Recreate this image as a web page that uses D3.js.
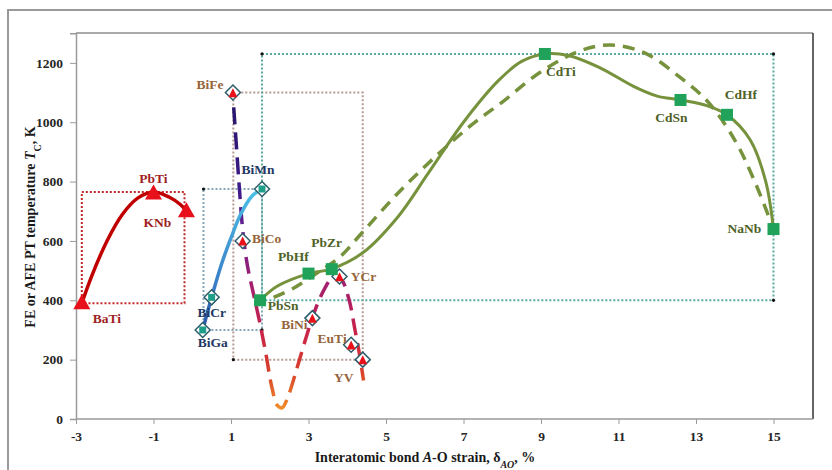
<!DOCTYPE html>
<html><head><meta charset="utf-8">
<script src="https://cdn.jsdelivr.net/npm/d3@7"></script>
<style>
body{margin:0;background:#fff}
svg{display:block}
text{font-family:"Liberation Serif","Times New Roman",serif;font-weight:bold}
</style>
</head><body>
<svg id="chart" width="832" height="470"></svg>
<script>
// ---------- data ----------
const xTicks = [-3, -1, 1, 3, 5, 7, 9, 11, 13, 15];
const yTicks = [0, 200, 400, 600, 800, 1000, 1200];

// A-site / B-site families: strain δAO (%) and transition temperature Tc (K)
const redNames   = ["BaTi", "PbTi", "KNb"];
const redStrain  = [-2.85, -1.0, -0.15];
const redTc      = [390, 760, 700];

const blueNames  = ["BiGa", "BiCr", "BiMn"];
const blueStrain = [0.27, 0.5, 1.8];
const blueTc     = [300, 410, 775];

const biNames    = ["BiFe", "BiCo", "BiNi", "YCr", "EuTi", "YV"];
const biStrain   = [1.05, 1.3, 3.1, 3.8, 4.1, 4.4];
const biTc       = [1100, 600, 340, 480, 250, 200];

const greenNames  = ["PbSn", "PbHf", "PbZr", "CdTi", "CdSn", "CdHf", "NaNb"];
const greenStrain = [1.75, 3.0, 3.6, 9.1, 12.6, 13.8, 15.0];
const greenTc     = [400, 490, 505, 1230, 1075, 1025, 640];

// smoothed trend curves [strain, Tc]
const redTrend = [[-2.85,390],[-2.6,480],[-2.2,600],[-1.8,690],[-1.4,745],[-1.0,765],[-0.6,748],[-0.3,722],[-0.15,700]];
const blueTrend = [[0.27,300],[0.5,410],[0.75,520],[1.0,610],[1.25,690],[1.55,752],[1.8,775]];
const biTrend = [[1.07,1050],[1.15,900],[1.22,770],[1.3,640],[1.42,520],[1.6,410],[1.75,320],[1.9,220],[2.05,110],[2.2,45],[2.32,38],[2.47,75],[2.7,170],[2.95,280],[3.15,360],[3.4,435],[3.65,482],[3.85,470],[4.05,400],[4.2,300],[4.32,215],[4.42,130]];
const greenTrend = [[1.75,400],[2.2,448],[3.0,490],[3.6,506],[4.4,560],[5.3,680],[6.1,830],[7.0,1000],[7.9,1140],[8.5,1205],[9.1,1230],[9.7,1225],[10.5,1185],[11.4,1120],[12.0,1088],[12.6,1075],[13.3,1055],[13.8,1025],[14.4,940],[14.8,800],[15.0,640]];
const greenFit = [[2.1,410],[2.6,440],[3.2,490],[3.8,545],[4.4,630],[5.3,760],[6.2,875],[7.2,990],[8.0,1068],[9.0,1170],[10.0,1240],[10.8,1260],[11.7,1232],[12.6,1150],[13.3,1070],[14.0,940],[14.5,805],[15.0,640]];

// range boxes [xMin, xMax, TcMin, TcMax]
const redBox   = [-2.85, -0.2, 390, 765];
const blueBox  = [0.29, 1.8, 300, 775];
const biBox    = [1.06, 4.4, 200, 1100];
const greenBox = [1.8, 15.0, 400, 1230];

// ---------- layout ----------
const svg = d3.select("#chart");
const x = d3.scaleLinear().domain([-3, 16]).range([76, 812.25]);
const y = d3.scaleLinear().domain([0, 1300]).range([419, 33.2]);

// outer frame
svg.append("rect").attr("x", 8).attr("y", 10).attr("width", 840).attr("height", 480)
  .attr("fill", "#fff").attr("stroke", "#9a9a9a").attr("stroke-width", 2);

// plot area border (top + right)
svg.append("line").attr("x1", 76).attr("x2", 813).attr("y1", 33).attr("y2", 33)
  .attr("stroke", "#8c8c8c").attr("stroke-width", 1.5);
svg.append("line").attr("x1", 813).attr("x2", 813).attr("y1", 33).attr("y2", 419)
  .attr("stroke", "#333").attr("stroke-width", 1.5);

// axes
const yAxis = svg.append("g").attr("transform", "translate(76,0)")
  .call(d3.axisLeft(y).tickValues(yTicks).tickSize(6).tickPadding(7).tickFormat(d => String(d)));
const xAxis = svg.append("g").attr("transform", "translate(0,419)")
  .call(d3.axisBottom(x).tickValues(xTicks).tickSize(5).tickPadding(7).tickFormat(d => String(d)));
[yAxis, xAxis].forEach(g => {
  g.select(".domain").attr("stroke", "#9a9a9a").attr("stroke-width", 1.5);
  g.selectAll(".tick line").attr("stroke", "#9a9a9a");
  g.selectAll(".tick text").attr("fill", "#262626")
    .style("font-family", '"Liberation Serif",serif').style("font-weight", "bold").style("font-size", "13.5px");
});
xAxis.select(".domain").attr("d", `M76,0H813`);

// axis titles
const yt = svg.append("text").attr("transform", "translate(35,227) rotate(-90)")
  .attr("text-anchor", "middle").attr("fill", "#1a1a1a").style("font-size", "14px");
yt.append("tspan").text("FE or AFE PT temperature ");
yt.append("tspan").attr("font-style", "italic").text("T");
yt.append("tspan").attr("baseline-shift", "sub").style("font-size", "10px").text("C");
yt.append("tspan").text(", K");

const xt = svg.append("text").attr("x", 425).attr("y", 462)
  .attr("text-anchor", "middle").attr("fill", "#1a1a1a").style("font-size", "14px");
xt.append("tspan").text("Interatomic bond ");
xt.append("tspan").attr("font-style", "italic").text("A");
xt.append("tspan").text("-O strain, δ");
xt.append("tspan").attr("baseline-shift", "sub").attr("font-style", "italic").style("font-size", "10px").text("AO");
xt.append("tspan").text(", %");

// gradients
const defs = svg.append("defs");
const g1 = defs.append("linearGradient").attr("id", "biGrad").attr("gradientUnits", "userSpaceOnUse")
  .attr("x1", 0).attr("x2", 0).attr("y1", y(1100)).attr("y2", y(30));
[[0, "#231466"], [0.3, "#3d1a8a"], [0.45, "#6e1f93"], [0.6, "#a21f70"], [0.75, "#c8234a"], [0.88, "#d8402a"], [1, "#f0902a"]]
  .forEach(([o, c]) => g1.append("stop").attr("offset", o).attr("stop-color", c));
const g2 = defs.append("linearGradient").attr("id", "blueGrad").attr("gradientUnits", "userSpaceOnUse")
  .attr("x1", 0).attr("x2", 0).attr("y1", y(300)).attr("y2", y(775));
[[0, "#2c55a6"], [0.35, "#3a80c8"], [1, "#4cc0e6"]]
  .forEach(([o, c]) => g2.append("stop").attr("offset", o).attr("stop-color", c));

// range boxes
function box(b, color, corners) {
  const [x0, x1, v0, v1] = b;
  svg.append("rect").attr("x", x(x0)).attr("y", y(v1)).attr("width", x(x1) - x(x0)).attr("height", y(v0) - y(v1))
    .attr("fill", "none").attr("stroke", color).attr("stroke-width", 2).attr("stroke-dasharray", "2,2");
  corners.forEach(([cx, cy]) => svg.append("circle").attr("cx", x(cx)).attr("cy", y(cy)).attr("r", 1.6).attr("fill", "#111"));
}
box(redBox, "#c0282a", []);
box(blueBox, "#86a6b8", [[blueBox[0], blueBox[3]], [blueBox[1], blueBox[2]]]);
box(biBox, "#b59a92", [[biBox[0], biBox[2]]]);
box(greenBox, "#5aaaa2", [[greenBox[0], greenBox[3]], [greenBox[1], greenBox[3]], [greenBox[1], greenBox[2]]]);

// trend curves
const line = d3.line().x(d => x(d[0])).y(d => y(d[1])).curve(d3.curveCatmullRom.alpha(0.5));
svg.append("path").attr("d", line(greenFit)).attr("fill", "none").attr("stroke", "#76923c")
  .attr("stroke-width", 3.5).attr("stroke-dasharray", "12,8");
svg.append("path").attr("d", line(greenTrend)).attr("fill", "none").attr("stroke", "#76923c").attr("stroke-width", 3);
svg.append("path").attr("d", line(redTrend)).attr("fill", "none").attr("stroke", "#c00000").attr("stroke-width", 3.5);
svg.append("path").attr("d", line(biTrend)).attr("fill", "none").attr("stroke", "url(#biGrad)")
  .attr("stroke-width", 3.5).attr("stroke-dasharray", "17,8");
svg.append("path").attr("d", line(blueTrend)).attr("fill", "none").attr("stroke", "url(#blueGrad)").attr("stroke-width", 3.5);

// markers
const tri = (w, h) => `M0,${-h * 0.6}L${w / 2},${h * 0.4}L${-w / 2},${h * 0.4}Z`;
function diamonds(xs, ys) {
  xs.forEach((d, i) => svg.append("path").attr("transform", `translate(${x(d)},${y(ys[i])})`)
    .attr("d", "M0,-7.5L7.5,0L0,7.5L-7.5,0Z").attr("fill", "#fff").attr("stroke", "#2d5d6b").attr("stroke-width", 1.5));
}
redStrain.forEach((d, i) => svg.append("path").attr("transform", `translate(${x(d)},${y(redTc[i])})`)
  .attr("d", tri(17, 15)).attr("fill", "#e8101a"));
diamonds(blueStrain, blueTc);
blueStrain.forEach((d, i) => svg.append("rect").attr("x", x(d) - 3.5).attr("y", y(blueTc[i]) - 3.5)
  .attr("width", 7).attr("height", 7).attr("fill", "#1f9f8a"));
diamonds(biStrain, biTc);
biStrain.forEach((d, i) => svg.append("path").attr("transform", `translate(${x(d)},${y(biTc[i]) + 1})`)
  .attr("d", tri(9, 9)).attr("fill", "#e8101a"));
greenStrain.forEach((d, i) => svg.append("rect").attr("x", x(d) - 6).attr("y", y(greenTc[i]) - 6)
  .attr("width", 12).attr("height", 12).attr("fill", "#21a25a"));

// labels: offsets of text centre / baseline from the marker, in px
const labelOffset = {
  BaTi: [25, 20], PbTi: [0, -10], KNb: [-29, 16],
  BiGa: [10, 17], BiCr: [0, 20], BiMn: [-4, -15],
  BiFe: [-23, -4], BiCo: [24, 2], BiNi: [-18, 11], YCr: [24, 4], EuTi: [-19, -2], YV: [-19, 22],
  PbSn: [23, 10], PbHf: [-15, -13], PbZr: [-5, -22], CdTi: [16, 22], CdSn: [-9, 22], CdHf: [14, -16], NaNb: [-29, 4]
};
function labels(names, xs, ys, color) {
  names.forEach((n, i) => {
    const [dx, dy] = labelOffset[n];
    svg.append("text").attr("x", x(xs[i]) + dx).attr("y", y(ys[i]) + dy).attr("text-anchor", "middle")
      .attr("fill", color).style("font-size", "13.5px").text(n);
  });
}
labels(redNames, redStrain, redTc, "#a01f1f");
labels(blueNames, blueStrain, blueTc, "#1f3864");
labels(biNames, biStrain, biTc, "#96643a");
labels(greenNames, greenStrain, greenTc, "#4f6228");
</script>
</body></html>
